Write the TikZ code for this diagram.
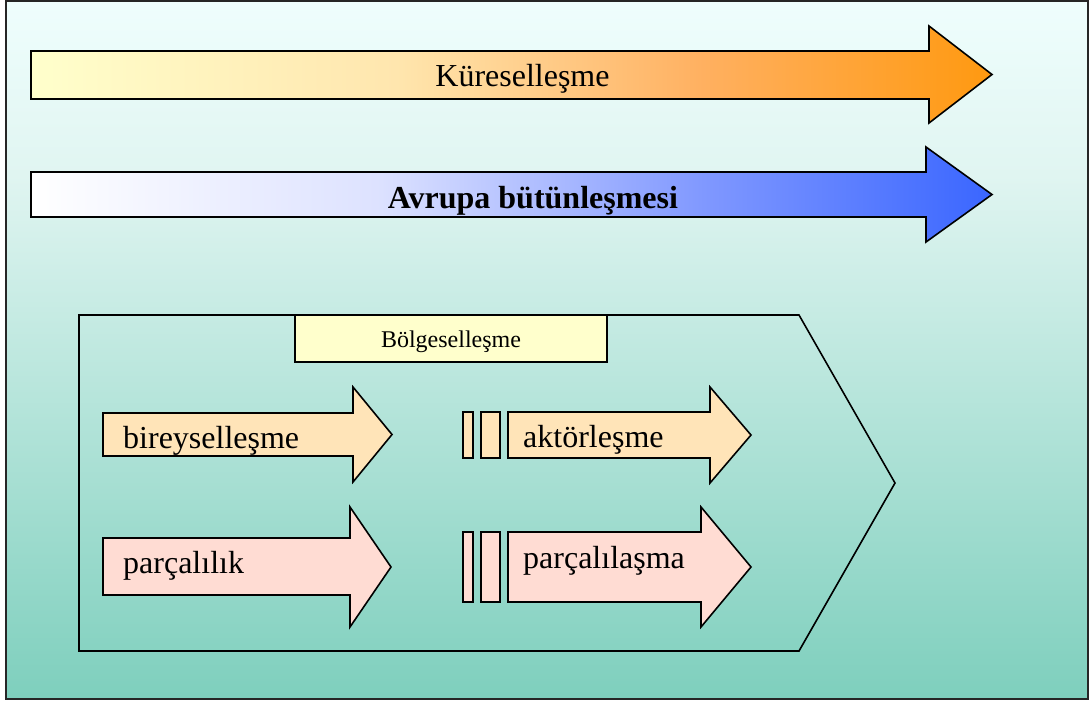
\documentclass[tikz,border=0pt]{standalone}
\usepackage{fontspec}
\setmainfont{Liberation Serif}
\definecolor{bgtop}{HTML}{EFFEFD}
\definecolor{bgmid}{HTML}{E0F5F1}
\definecolor{bgbot}{HTML}{7ECFBD}
\definecolor{or0}{HTML}{FFFFCC}
\definecolor{or1}{HTML}{FFE6AE}
\definecolor{or2}{HTML}{FFB060}
\definecolor{or3}{HTML}{FF9910}
\definecolor{bl1}{HTML}{DDE2FF}
\definecolor{bl2}{HTML}{8098FF}
\definecolor{bl3}{HTML}{3A66FF}
\definecolor{peach}{HTML}{FFE4B8}
\definecolor{pinkf}{HTML}{FFDCD3}
\definecolor{paleyel}{HTML}{FFFFCC}
\pgfdeclareverticalshading{bgshade}{100bp}{color(0bp)=(bgbot); color(25bp)=(bgbot); color(62.5bp)=(bgmid); color(75bp)=(bgtop); color(100bp)=(bgtop)}
\pgfdeclarehorizontalshading{orshade}{100bp}{color(0bp)=(or0); color(25bp)=(or0); color(44bp)=(or1); color(60bp)=(or2); color(75bp)=(or3); color(100bp)=(or3)}
\pgfdeclarehorizontalshading{blshade}{100bp}{color(0bp)=(white); color(25bp)=(white); color(43bp)=(bl1); color(60bp)=(bl2); color(75bp)=(bl3); color(100bp)=(bl3)}
\tikzset{
  outline/.style={draw=black, line width=1.6pt, line join=miter},
  bigtext/.style={font=\fontsize{32}{38}\selectfont, inner sep=0pt, anchor=base},
  lefttext/.style={font=\fontsize{32}{38}\selectfont, inner sep=0pt, anchor=base west},
}
\begin{document}
\begin{tikzpicture}[x=1pt,y=-1pt]
\useasboundingbox (0,0) rectangle (1092,702);
% background
\path[shading=bgshade] (6,1) rectangle (1088,699);
\draw[line width=1.6pt, draw=black!85] (6,1) rectangle (1088,699);
% top arrows
\path[outline, shading=orshade] (31,51) -- (929,51) -- (929,26) -- (992,74.5) -- (929,123) -- (929,99) -- (31,99) -- cycle;
\path[outline, shading=blshade] (31,172) -- (926,172) -- (926,147) -- (992,194.5) -- (926,242) -- (926,217) -- (31,217) -- cycle;
\node[bigtext] (kur) at (522.5,86) {Küreselleşme};
\node[bigtext, font=\fontsize{32}{38}\selectfont\bfseries] (avr) at (533,208) {Avrupa bütünleşmesi};
% region pentagon
\draw[outline] (79,315) -- (799,315) -- (895,483) -- (799,651) -- (79,651) -- cycle;
\draw[outline, fill=paleyel] (295,315) rectangle (607,362);
\node[font=\fontsize{24}{28}\selectfont, inner sep=0pt, anchor=base] (bol) at (451,347) {Bölgeselleşme};
% small arrows
\draw[outline, fill=peach] (103,413) -- (353,413) -- (353,387) -- (392,434.5) -- (353,482) -- (353,456) -- (103,456) -- cycle;
\draw[outline, fill=pinkf] (103,538) -- (350,538) -- (350,507) -- (391,567) -- (350,627) -- (350,595) -- (103,595) -- cycle;
\draw[outline, fill=peach] (508,412) -- (710,412) -- (710,387) -- (751,435) -- (710,483) -- (710,458) -- (508,458) -- cycle;
\draw[outline, fill=peach] (463,412) rectangle (473,458);
\draw[outline, fill=peach] (481,412) rectangle (500,458);
\draw[outline, fill=pinkf] (508,532) -- (701,532) -- (701,507) -- (751,567) -- (701,627) -- (701,602) -- (508,602) -- cycle;
\draw[outline, fill=pinkf] (463,532) rectangle (473,602);
\draw[outline, fill=pinkf] (481,532) rectangle (500,602);
\node[lefttext] (bir) at (123,448) {bireyselleşme};
\node[lefttext] (parc) at (123,573) {parçalılık};
\node[lefttext] (akt) at (523,447) {aktörleşme};
\node[lefttext] (parcl) at (523,568) {parçalılaşma};
\end{tikzpicture}
\end{document}
